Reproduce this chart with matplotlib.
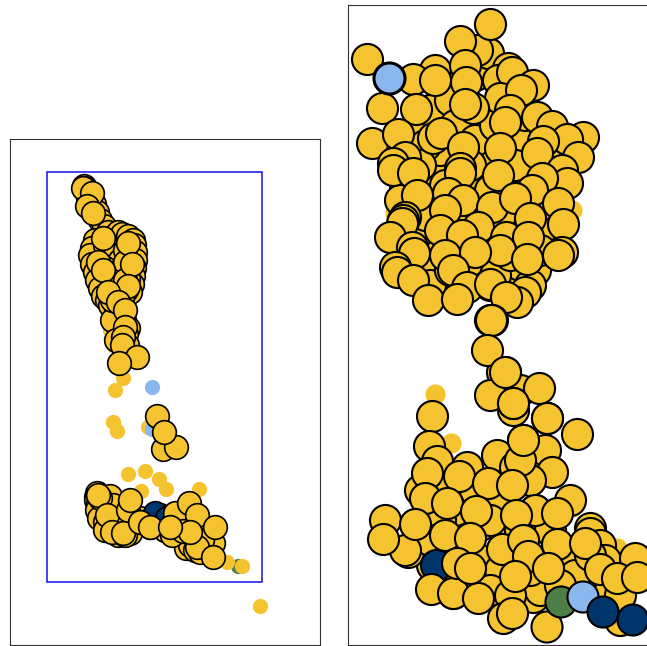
import matplotlib
matplotlib.use("Agg")
import matplotlib.pyplot as plt
from matplotlib.patches import Rectangle

W, H = 647, 646
YELLOW = "#F4C32F"
LIGHT = "#8AB8EE"
NAVY = "#00356B"
GREEN = "#4F7D47"

# left panel, values
left_flat_x = [123, 115, 113, 117, 148, 128, 145, 159, 166, 141, 199, 227, 242, 260, 110, 113]
left_flat_y = [378, 390, 422, 431, 427, 474, 471, 479, 489, 491, 489, 562, 566, 606, 330, 345]
left_flat_blue_x = [152, 152]
left_flat_blue_y = [387, 429]
left_flat_green_x = [238]
left_flat_green_y = [566]
left_back_x = [84, 85, 86, 88, 94, 97, 100, 104, 108, 110, 112, 115, 95, 92, 90, 92, 95, 97, 100, 103, 107, 110,
               118, 122, 128, 133, 134, 135, 135, 134, 133, 132, 130, 128, 126, 122, 118, 115, 120, 124, 128, 126, 122, 124, 127, 122,
               105, 110, 115, 120, 125, 105, 110, 115, 120, 125, 110, 115, 120, 125, 118, 112, 112, 116,
               97, 96, 96, 98, 100, 102, 97, 99, 105, 110, 115, 120, 125, 130, 135, 140, 145, 150, 160, 165,
               105, 110, 113, 118, 105, 118, 125, 116,
               172, 178, 183, 188, 193, 198, 203, 208, 186, 190, 195, 200, 160, 175, 165, 172, 180, 188, 196, 205]
left_back_y = [186, 188, 190, 198, 204, 212, 220, 226, 232, 238, 243, 248, 240, 248, 255, 264, 272, 280, 288, 296, 300, 305,
               232, 234, 236, 240, 245, 252, 260, 268, 276, 284, 292, 278, 290, 298, 300, 316, 325, 320, 328, 334, 342, 350, 345, 335,
               245, 250, 255, 260, 250, 268, 275, 282, 270, 262, 290, 295, 285, 280, 312, 320, 300, 340,
               493, 497, 500, 503, 506, 508, 510, 518, 522, 527, 532, 530, 527, 533, 520, 518, 522, 527, 525, 530,
               500, 496, 505, 522, 530, 535, 535, 528,
               530, 535, 537, 539, 541, 543, 535, 530, 548, 545, 550, 552, 515, 520, 530, 535, 528, 525, 530, 535]
left_navy_x = [155, 167]
left_navy_y = [513, 518]
left_front_x = [83, 92, 87, 93, 103, 128, 98, 103, 132, 128, 108, 118, 125, 125, 123, 122, 137, 119,
                157, 163, 176, 164,
                100, 98, 107, 128, 130, 112, 123, 140, 150, 175, 189, 197, 213, 202, 197, 213, 215, 183, 190, 170]
left_front_y = [188, 193, 206, 213, 238, 243, 262, 270, 264, 286, 292, 302, 310, 327, 337, 345, 357, 363,
                416, 449, 447, 432,
                498, 495, 515, 510, 500, 532, 533, 522, 527, 513, 503, 515, 543, 540, 547, 557, 527, 531, 532, 527]

# right panel
right_flat_x = [395, 572, 435, 451, 572, 617]
right_flat_y = [213, 210, 394, 443, 507, 548]
right_under_blue_x = [469]
right_under_blue_y = [497]
right_top_x = [488, 477, 460, 490, 367, 465, 413, 435, 466, 508, 498, 512, 533, 500, 521, 382, 416, 473, 465, 510, 505,
               537, 552, 583, 567, 543, 372, 398, 433, 441, 463, 500, 578, 537, 405, 393, 393, 413, 460, 460, 498, 562,
               567, 542, 532, 448, 417, 463, 492, 515, 558, 563, 530, 445, 405, 403, 402, 390, 440, 478, 462, 506, 528,
               500, 412, 414, 445, 475, 562, 558, 527, 395, 397, 413, 453, 467, 428, 457, 490, 525, 517, 506, 490, 492]
right_top_y = [53, 50, 41, 24, 59, 65, 79, 80, 82, 68, 80, 72, 85, 98, 90, 108, 109, 108, 104, 110, 122,
               117, 126, 137, 139, 141, 143, 134, 138, 133, 147, 148, 157, 153, 157, 163, 170, 173, 168, 173, 175, 170,
               183, 178, 190, 193, 195, 200, 207, 198, 203, 224, 218, 210, 217, 220, 223, 237, 230, 227, 235, 237, 237,
               250, 247, 253, 255, 252, 252, 255, 259, 267, 272, 280, 270, 287, 300, 299, 284, 292, 302, 297, 320, 320]
right_fill_x = [480, 520, 450, 425, 415, 510, 540, 450, 480, 525, 490, 535, 505, 470, 420, 430, 450, 440, 480, 520, 520,
                430, 480, 440, 430, 490, 505, 540, 420, 480, 455, 440, 475, 495, 525, 545, 550, 425, 405, 420, 445, 470,
                490, 515, 540, 400, 425, 455, 480, 500, 520, 540, 430, 450, 470, 495, 510, 530, 475, 435]
right_fill_y = [120, 130, 155, 128, 190, 190, 250, 240, 160, 150, 285, 270, 230, 275, 240, 110, 100, 170, 130, 140, 170,
                190, 180, 250, 270, 260, 270, 230, 230, 215, 125, 150, 140, 125, 115, 130, 155, 145, 185, 165, 185, 165,
                190, 165, 205, 200, 215, 225, 245, 215, 265, 250, 285, 270, 260, 275, 255, 285, 75, 70]
right_bottom_under_x = [505, 502, 520, 513, 513, 490, 547, 523, 545, 497, 552, 467, 515, 535, 570, 590, 590, 600, 605, 620,
                        635, 580, 432, 408, 453, 512, 533, 496, 480, 520, 455, 500, 560, 540,
                        500, 530, 490, 440, 430, 480, 500, 530, 490, 450, 570, 575, 560, 610, 620, 460, 420, 405, 550, 520, 475, 440, 510, 445, 590]
right_bottom_under_y = [372, 372, 390, 410, 403, 395, 418, 440, 450, 455, 472, 467, 467, 510, 500, 528, 533, 545, 560, 620,
                        558, 587, 565, 552, 593, 600, 597, 520, 525, 530, 510, 585, 555, 590,
                        500, 480, 520, 520, 540, 560, 570, 570, 590, 570, 560, 575, 585, 590, 595, 495, 490, 550, 530, 460, 490, 480, 595, 575, 555]
right_navy_under_x = [436]
right_navy_under_y = [565]
right_bottom_x = [491, 487, 505, 539, 513, 547, 577, 432, 429, 523, 437, 427, 459, 488, 512, 425, 447, 476, 535, 557,
                  516, 385, 415, 383, 445, 470, 502, 523, 557, 585, 431, 453, 478, 457, 470, 503, 512, 528, 548, 515,
                  600, 617, 637]
right_bottom_y = [320, 350, 372, 388, 403, 418, 434, 416, 446, 440, 461, 473, 476, 483, 485, 498, 503, 511, 510, 513,
                  515, 520, 524, 539, 535, 538, 549, 540, 544, 543, 589, 593, 598, 563, 568, 618, 613, 556, 568, 576,
                  569, 578, 577]
right_last_x = [547, 561, 583, 603, 633]
right_last_y = [627, 602, 597, 612, 620]
right_last_colors = [YELLOW, GREEN, LIGHT, NAVY, NAVY]

fig = plt.figure(figsize=(W / 100, H / 100), dpi=100)


def panel(x0, x1, y0, y1):
    ax = fig.add_axes([x0 / W, 1 - y1 / H, (x1 - x0) / W, (y1 - y0) / H])
    ax.set_xlim(x0, x1)
    ax.set_ylim(y1, y0)
    ax.set_xticks([])
    ax.set_yticks([])
    for s in ax.spines.values():
        s.set_linewidth(0.8)
        s.set_color("#333333")
    return ax


ax1 = panel(10, 320, 139, 645)
ax2 = panel(348, 660, 5, 645)

s_big1, s_flat1 = 290, 120
ax1.scatter(left_flat_x, left_flat_y, s=s_flat1, c=YELLOW, linewidths=0, zorder=1)
ax1.scatter(left_flat_blue_x, left_flat_blue_y, s=s_flat1, c=LIGHT, linewidths=0, zorder=1.1)
ax1.scatter(left_flat_green_x, left_flat_green_y, s=s_flat1, c=GREEN, linewidths=0, zorder=0.9)
ax1.scatter(left_back_x, left_back_y, s=s_big1, c=YELLOW, edgecolors="k", linewidths=1.2, zorder=2)
ax1.scatter(left_navy_x, left_navy_y, s=s_big1, c=NAVY, edgecolors="k", linewidths=1.2, zorder=3)
ax1.scatter(left_front_x, left_front_y, s=s_big1, c=YELLOW, edgecolors="k", linewidths=1.2, zorder=4)
ax1.add_patch(Rectangle((47, 172), 215, 410, fill=False, edgecolor="#1010E8", linewidth=1.1, zorder=5))

s_big2, s_flat2 = 500, 210
ax2.scatter(right_flat_x, right_flat_y, s=s_flat2, c=YELLOW, linewidths=0, zorder=1)
ax2.scatter(right_under_blue_x, right_under_blue_y, s=s_big2, c=LIGHT, edgecolors="k", linewidths=1.5, zorder=1.5)
ax2.scatter(right_fill_x, right_fill_y, s=s_big2, c=YELLOW, edgecolors="k", linewidths=1.5, zorder=2)
ax2.scatter(right_top_x, right_top_y, s=s_big2, c=YELLOW, edgecolors="k", linewidths=1.5, zorder=3)
ax2.scatter([389], [78], s=s_big2, c=LIGHT, edgecolors="k", linewidths=2.2, zorder=3.5)
ax2.scatter(right_bottom_under_x, right_bottom_under_y, s=s_big2, c=YELLOW, edgecolors="k", linewidths=1.5, zorder=2)
ax2.scatter(right_navy_under_x, right_navy_under_y, s=s_big2, c=NAVY, edgecolors="k", linewidths=1.5, zorder=2.5)
ax2.scatter(right_bottom_x, right_bottom_y, s=s_big2, c=YELLOW, edgecolors="k", linewidths=1.5, zorder=3)
ax2.scatter(right_last_x, right_last_y, s=s_big2, c=right_last_colors, edgecolors="k", linewidths=1.5, zorder=4)

fig.savefig("out.png", dpi=100)
